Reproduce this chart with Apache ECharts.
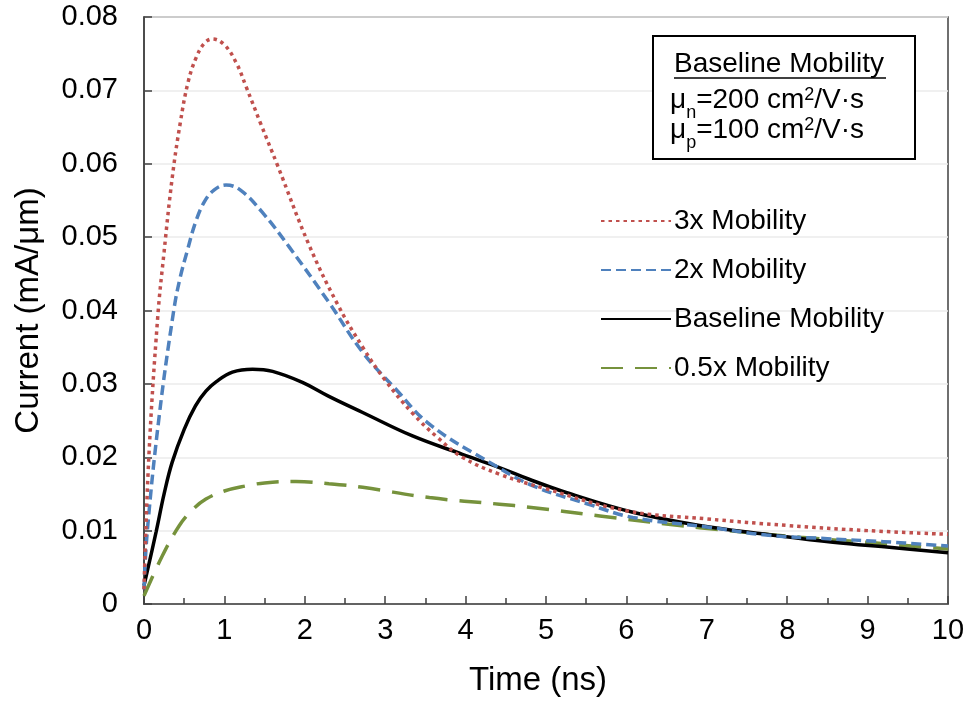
<!DOCTYPE html>
<html>
<head>
<meta charset="utf-8">
<script src="https://cdn.jsdelivr.net/npm/echarts@6/dist/echarts.min.js"></script>
<style>html,body{margin:0;padding:0;background:#fff}#c{width:971px;height:702px}</style>
</head>
<body>
<div id="c"></div>
<script>
// ---- data ----
const seriesNames = ['3x Mobility', '2x Mobility', 'Baseline Mobility', '0.5x Mobility'];

const t3x = [0, 0.06, 0.17, 0.25, 0.35, 0.45, 0.55, 0.65, 0.75, 0.85, 1.0, 1.15, 1.27, 1.45, 1.66, 2.05, 2.4, 2.72, 3.0, 3.34, 3.65, 3.96, 4.42, 5, 6, 7, 8, 9, 10];
const i3x = [0.002, 0.020, 0.039, 0.048, 0.058, 0.0655, 0.0712, 0.0745, 0.0764, 0.077, 0.0762, 0.0737, 0.0705, 0.0655, 0.0598, 0.049, 0.041, 0.035, 0.0305, 0.026, 0.0227, 0.020, 0.0177, 0.0157, 0.0127, 0.0116, 0.0107, 0.0100, 0.0095];

const t2x = [0, 0.04, 0.19, 0.37, 0.45, 0.54, 0.64, 0.75, 0.87, 1.02, 1.2, 1.47, 1.81, 2.3, 2.72, 3.13, 3.55, 4.3, 4.84, 5.5, 6.08, 7, 7.74, 8.5, 9.2, 10];
const i2x = [0.002, 0.0098, 0.0257, 0.0400, 0.0445, 0.0482, 0.0520, 0.0548, 0.0564, 0.0571, 0.0564, 0.0534, 0.0486, 0.0411, 0.0343, 0.0293, 0.0245, 0.0193, 0.0161, 0.0137, 0.0118, 0.0105, 0.0094, 0.0089, 0.0085, 0.0079];

const tBase = [0, 0.15, 0.25, 0.35, 0.5, 0.64, 0.77, 0.9, 1.1, 1.35, 1.6, 1.97, 2.3, 2.72, 3.34, 3.96, 4.42, 4.79, 5.25, 6.08, 6.91, 7.74, 8.57, 9.3, 10];
const iBase = [0.0025, 0.0098, 0.0150, 0.0193, 0.0238, 0.0270, 0.0290, 0.0303, 0.0316, 0.0320, 0.0317, 0.0302, 0.0283, 0.0261, 0.0229, 0.0204, 0.0186, 0.0170, 0.0152, 0.0125, 0.0107, 0.0095, 0.0084, 0.0077, 0.0070];

const tHalf = [0, 0.23, 0.44, 0.6, 0.77, 1.0, 1.27, 1.5, 1.89, 2.3, 2.72, 3.55, 4.42, 4.79, 5.67, 6.91, 8.16, 9, 10];
const iHalf = [0.0011, 0.0066, 0.0107, 0.0128, 0.0143, 0.0154, 0.0161, 0.0165, 0.0167, 0.0164, 0.0159, 0.0145, 0.0136, 0.0132, 0.0120, 0.0104, 0.0091, 0.0084, 0.0075];

const xTicks = { min: 0, max: 10, interval: 1 };
const yTicks = { min: 0, max: 0.08, interval: 0.01 };

const xTitle = 'Time (ns)';
const yTitle = 'Current (mA/μm)';
const boxTitle = 'Baseline Mobility';
const boxLine1 = 'μ{sub|n}=200 cm{sup|2}/V·s';
const boxLine2 = 'μ{sub|p}=100 cm{sup|2}/V·s';

// ---- chart ----
const FONT = '"Liberation Sans", Arial, sans-serif';
function pairs(t, v) { return t.map((x, k) => [x, v[k]]); }

const styles = [
  { color: '#C0504D', type: [3.5, 4], cap: 'butt' },
  { color: '#4F81BD', type: [10, 5], cap: 'butt' },
  { color: '#000000', type: 'solid', cap: 'butt' },
  { color: '#76923C', type: [22, 12], cap: 'butt' }
];
const datasets = [pairs(t3x, i3x), pairs(t2x, i2x), pairs(tBase, iBase), pairs(tHalf, iHalf)];

const chart = echarts.init(document.getElementById('c'), null, { renderer: 'canvas' });
const subRich = {
  sub: { fontSize: 18, fontFamily: FONT, color: '#000', verticalAlign: 'bottom', lineHeight: 20, padding: [0, 0, -8, 0] },
  sup: { fontSize: 18, fontFamily: FONT, color: '#000', verticalAlign: 'top', lineHeight: 20 }
};
chart.setOption({
  animation: false,
  backgroundColor: '#fff',
  grid: { left: 144, top: 17, right: 23, bottom: 96, show: true, borderColor: '#404040', borderWidth: 1.5, containLabel: false },
  xAxis: {
    type: 'value', min: xTicks.min, max: xTicks.max, interval: xTicks.interval,
    name: xTitle, nameLocation: 'middle', nameGap: 60,
    nameTextStyle: { fontSize: 33, fontFamily: FONT, color: '#000', padding: [0, 16, 0, 0] },
    axisLine: { show: true, lineStyle: { color: '#404040', width: 1.5 } },
    axisTick: { show: true, inside: true, length: 8, lineStyle: { color: '#404040', width: 1.5 } },
    minorTick: { show: true, splitNumber: 2, length: 6, lineStyle: { color: '#404040', width: 1.5 } },
    axisLabel: { fontSize: 29, fontFamily: FONT, color: '#000', margin: 12 },
    splitLine: { show: false }
  },
  yAxis: {
    type: 'value', min: yTicks.min, max: yTicks.max, interval: yTicks.interval,
    name: yTitle, nameLocation: 'middle', nameGap: 99, nameRotate: 90,
    nameTextStyle: { fontSize: 33, fontFamily: FONT, color: '#000' },
    axisLine: { show: true, lineStyle: { color: '#404040', width: 1.5 } },
    axisTick: { show: true, inside: true, length: 8, lineStyle: { color: '#404040', width: 1.5 } },
    axisLabel: { fontSize: 29, fontFamily: FONT, color: '#000', margin: 26 },
    splitLine: { show: true, lineStyle: { color: '#EBEBEB', width: 1.5 } }
  },
  legend: {
    orient: 'vertical', left: 595, top: 201,
    itemWidth: 70, itemHeight: 14, itemGap: 19,
    data: seriesNames,
    itemStyle: { opacity: 0, borderWidth: 0 },
    textStyle: { fontSize: 28, fontFamily: FONT, color: '#000', lineHeight: 30, padding: [0, 0, 0, -2] }
  },
  series: seriesNames.map((n, k) => ({
    name: n, type: 'line', smooth: 0.4, symbol: 'none', showSymbol: false,
    data: datasets[k], z: 10 - k,
    lineStyle: { color: styles[k].color, width: 3.5, type: styles[k].type, cap: styles[k].cap },
    itemStyle: { color: styles[k].color }
  })),
  graphic: [
    { type: 'rect', left: 652, top: 35, shape: { width: 262, height: 123 }, style: { fill: '#fff', stroke: '#000', lineWidth: 2 }, z: 100 },
    { type: 'text', left: 674, top: 50, z: 101, style: { text: boxTitle, font: '28px ' + FONT, fill: '#000' } },
    { type: 'line', z: 101, shape: { x1: 674, y1: 78, x2: 886, y2: 78 }, style: { stroke: '#000', lineWidth: 1.5 } },
    { type: 'text', left: 670, top: 86, z: 101, style: { text: boxLine1, font: '28px ' + FONT, fill: '#000', rich: subRich } },
    { type: 'text', left: 670, top: 116, z: 101, style: { text: boxLine2, font: '28px ' + FONT, fill: '#000', rich: subRich } }
  ]
});
</script>
</body>
</html>
